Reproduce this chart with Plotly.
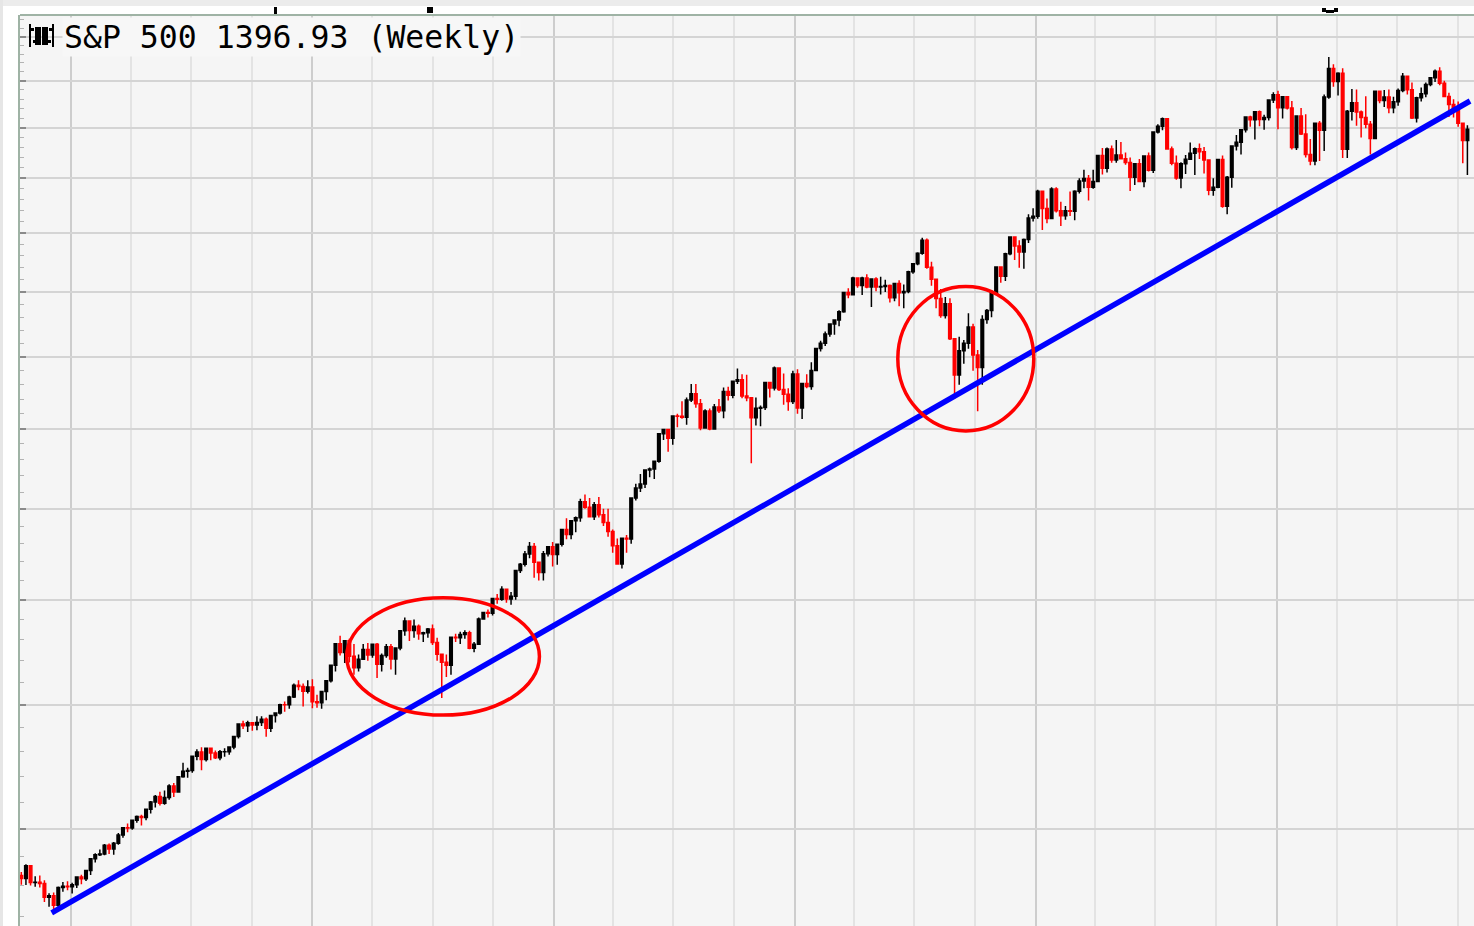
import math
import pandas as pd
import plotly.graph_objects as go

# ---------------- data (weekly S&P 500, weeks starting Monday) ----------------
week_start = "1994-10-17"
first_open = 467.0

close_1994 = [464.89, 473.77, 462.28, 462.35, 461.47, 452.29, 453.30, 446.95, 458.80, 459.61, 459.27]
high_1994 = [469.3, 474.7, 473.8, 466.5, 467.0, 463.8, 455.0, 455.5, 459.5, 462.5, 463.0]
low_1994 = [460.7, 460.5, 460.2, 459.4, 458.8, 449.1, 446.0, 443.7, 445.2, 456.0, 457.0]

close_1995 = [460.68, 465.97, 464.78, 470.39, 478.65, 481.46, 481.97, 488.11, 485.42, 489.57, 495.52, 500.97, 500.71,
              506.42, 509.23, 508.49, 514.71, 520.12, 524.37, 519.19, 523.65, 532.51, 527.94, 539.83, 544.13, 544.75,
              556.37, 559.89, 553.62, 562.93, 558.94, 555.11, 559.97, 560.10, 563.84, 572.68, 583.35, 581.73, 584.41,
              582.49, 584.50, 587.46, 579.70, 590.57, 592.72, 600.07, 599.97, 606.98, 617.48, 616.34, 611.95, 615.93]
high_1995 = [462.0, 466.5, 467.5, 471.0, 479.0, 482.5, 485.2, 489.0, 489.5, 490.5, 497.0, 501.5, 504.0,
             507.0, 510.0, 510.5, 515.0, 521.0, 525.5, 528.0, 529.0, 534.0, 535.0, 540.0, 551.0, 547.0,
             557.0, 562.0, 563.8, 563.5, 563.0, 561.0, 561.5, 563.0, 564.5, 573.0, 583.5, 586.0, 586.0,
             585.0, 590.0, 590.0, 589.0, 591.0, 593.0, 601.0, 603.0, 608.0, 619.0, 622.0, 619.0, 622.0]
low_1995 = [454.8, 458.5, 461.0, 463.2, 467.4, 476.0, 480.5, 481.0, 482.0, 481.5, 488.5, 493.5, 497.5,
            499.5, 504.5, 502.5, 506.5, 511.5, 516.0, 517.5, 518.0, 522.0, 524.0, 527.5, 539.0, 539.0,
            543.0, 553.0, 545.0, 552.0, 553.0, 554.0, 553.0, 556.0, 557.5, 562.0, 571.0, 579.0, 576.5,
            577.5, 578.0, 581.5, 572.5, 576.5, 584.5, 591.5, 594.0, 596.5, 606.0, 613.0, 598.5, 610.0]

close_1996 = [602.69, 601.81, 611.83, 621.62, 635.84, 656.37, 647.98, 659.08, 644.37, 633.50, 641.43, 650.62, 645.50,
              655.86, 636.71, 645.07, 653.46, 641.63, 652.09, 668.91, 678.51, 669.12, 673.31, 665.85, 666.84, 670.63,
              657.44, 646.19, 638.73, 635.90, 662.49, 662.10, 665.21, 667.03, 651.99, 655.68, 680.54, 687.03, 686.19,
              701.46, 700.66, 710.82, 700.92, 703.77, 730.82, 737.62, 748.73, 757.02, 739.60, 728.64, 748.87, 756.79,
              748.03]
high_1996 = [623.0, 609.0, 612.0, 622.0, 636.0, 657.0, 664.0, 659.5, 661.0, 656.0, 646.0, 656.0, 657.0,
             656.5, 657.0, 647.0, 656.0, 656.0, 653.0, 669.5, 682.0, 679.0, 680.0, 675.0, 668.0, 671.5,
             675.0, 662.0, 646.0, 646.0, 663.0, 666.0, 668.0, 669.5, 669.0, 658.0, 682.0, 687.5, 690.0,
             702.0, 706.0, 714.0, 711.0, 708.0, 731.5, 739.0, 752.0, 762.0, 761.0, 740.0, 752.0, 757.5, 762.0]
low_1996 = [597.0, 597.3, 596.5, 604.0, 620.0, 630.0, 645.0, 638.0, 638.5, 627.0, 630.0, 641.0, 640.0,
            643.0, 624.0, 630.0, 643.0, 632.0, 627.0, 650.0, 664.0, 659.0, 662.0, 660.0, 658.0, 662.0,
            655.0, 640.0, 605.9, 625.0, 627.0, 658.0, 656.0, 661.0, 651.0, 648.0, 655.0, 680.0, 682.0,
            684.0, 696.0, 699.0, 697.0, 695.0, 700.0, 728.0, 735.0, 744.0, 723.0, 720.0, 720.0, 746.0, 735.0]

close_1997 = [759.50, 776.17, 770.52, 786.16, 789.56, 808.48, 801.77, 790.82, 804.97, 793.17, 784.10, 773.88, 757.90,
              737.65, 766.34, 765.37, 812.97, 824.78, 829.75, 847.03, 848.28, 858.01, 893.27, 898.70, 887.30, 916.92,
              916.68, 915.30, 938.79, 947.14, 933.54, 900.81, 923.54, 899.47, 929.05, 923.91, 950.51, 945.22, 965.03,
              966.98, 944.16, 941.64, 914.62, 927.51, 928.35, 963.09, 955.40, 983.79, 953.39, 946.78, 936.46, 975.04]
high_1997 = [760.0, 777.0, 789.0, 787.0, 791.0, 812.0, 817.0, 813.0, 808.0, 814.0, 800.0, 800.0, 776.0,
             766.0, 767.0, 770.0, 813.0, 830.0, 842.0, 848.0, 850.0, 859.0, 894.0, 900.0, 900.0, 918.0,
             920.0, 937.0, 942.0, 961.0, 961.0, 940.0, 926.0, 927.0, 933.0, 940.0, 956.0, 957.0, 966.0,
             983.0, 975.0, 974.0, 942.0, 942.0, 931.0, 963.0, 961.0, 986.0, 983.0, 976.0, 955.0, 980.0]
low_1997 = [737.0, 757.0, 765.0, 765.0, 773.0, 785.0, 800.0, 790.0, 787.0, 790.0, 780.0, 768.0, 750.0,
            737.0, 733.0, 750.0, 760.0, 810.0, 820.0, 825.0, 838.0, 836.0, 856.0, 885.0, 870.0, 879.0,
            902.0, 913.0, 905.0, 936.0, 928.0, 898.0, 900.0, 898.0, 902.0, 921.0, 914.0, 938.0, 941.0,
            961.0, 941.0, 937.0, 855.3, 904.0, 903.0, 925.0, 942.0, 952.0, 951.0, 932.0, 924.0, 933.0]

close_1998 = [927.69, 961.51, 957.59, 980.28, 1012.46, 1020.09, 1034.21, 1049.34, 1055.69, 1068.61, 1099.16, 1095.44,
              1122.70, 1110.67, 1122.72, 1107.90, 1121.00, 1108.14, 1108.73, 1110.47, 1090.82, 1113.86, 1098.84,
              1100.65, 1133.20, 1146.42, 1164.33, 1186.75, 1140.80, 1120.67, 1089.45, 1062.75, 1081.24, 1027.14,
              973.89, 1009.06, 1020.09, 1044.75, 1002.60, 984.39, 1056.42, 1070.67, 1098.67, 1141.01, 1125.72,
              1163.55, 1192.33, 1176.74, 1166.46, 1188.03, 1226.27, 1229.23]
high_1998 = [982.0, 962.0, 975.0, 992.0, 1013.0, 1024.0, 1038.0, 1050.0, 1056.0, 1071.0, 1100.0, 1106.0, 1125.0,
             1124.0, 1125.0, 1129.0, 1121.0, 1124.0, 1125.0, 1120.0, 1112.0, 1114.0, 1119.0, 1112.0, 1135.0, 1147.0,
             1166.0, 1191.0, 1190.0, 1150.0, 1122.0, 1105.0, 1092.0, 1090.0, 1027.0, 1030.0, 1025.0, 1066.0, 1050.0,
             1010.0, 1063.0, 1073.0, 1103.0, 1142.0, 1142.0, 1165.0, 1193.0, 1193.0, 1187.0, 1190.0, 1233.0, 1244.0]
low_1998 = [920.0, 912.8, 955.0, 953.0, 984.0, 1008.0, 1016.0, 1030.0, 1033.0, 1046.0, 1067.0, 1090.0, 1097.0,
            1107.0, 1095.0, 1106.0, 1076.0, 1101.0, 1096.0, 1100.0, 1083.0, 1085.0, 1077.0, 1074.0, 1098.0, 1130.0,
            1144.0, 1162.0, 1138.0, 1110.0, 1074.0, 1059.0, 1058.0, 1025.0, 940.0, 960.0, 990.0, 1012.0, 980.0,
            923.3, 960.0, 1050.0, 1060.0, 1098.0, 1115.0, 1118.0, 1161.0, 1153.0, 1140.0, 1138.0, 1182.0, 1220.0]

close_1999 = [1275.09, 1243.26, 1225.19, 1279.64, 1239.40, 1230.13, 1239.22, 1238.33, 1275.47, 1294.59, 1299.29,
              1282.80, 1293.72, 1343.98, 1319.00, 1356.85, 1335.18, 1345.00, 1337.80, 1330.29, 1301.84, 1327.75,
              1293.64, 1342.84, 1315.31, 1391.22, 1403.28, 1418.78, 1356.94, 1328.72, 1300.29, 1327.68, 1336.61,
              1348.27, 1357.24, 1351.66, 1335.42, 1277.36, 1282.81, 1336.02, 1247.41, 1301.65, 1362.93, 1370.23,
              1396.06, 1422.00, 1416.62, 1433.30, 1417.04, 1421.03, 1458.34, 1469.25]
high_1999 = [1278.0, 1276.0, 1262.0, 1283.0, 1283.0, 1256.0, 1248.0, 1275.0, 1277.0, 1300.0, 1316.0, 1306.0, 1316.0,
             1345.0, 1359.0, 1360.0, 1364.0, 1375.0, 1371.0, 1350.0, 1340.0, 1328.0, 1337.0, 1344.0, 1350.0, 1392.0,
             1407.0, 1421.0, 1418.0, 1362.0, 1344.0, 1331.0, 1345.0, 1370.0, 1360.0, 1368.0, 1361.0, 1336.0, 1300.0,
             1337.0, 1344.0, 1304.0, 1362.0, 1385.0, 1397.0, 1424.0, 1425.0, 1434.0, 1436.0, 1427.0, 1459.0, 1475.0]
low_1999 = [1225.0, 1205.0, 1217.0, 1225.0, 1236.0, 1212.0, 1223.0, 1230.0, 1222.0, 1271.0, 1281.0, 1258.0, 1280.0,
            1293.0, 1307.0, 1311.0, 1330.0, 1330.0, 1337.0, 1326.0, 1276.0, 1287.0, 1293.0, 1283.0, 1313.0, 1310.0,
            1388.0, 1395.0, 1356.0, 1325.0, 1297.0, 1281.0, 1308.0, 1339.0, 1306.0, 1337.0, 1309.0, 1268.0, 1267.0,
            1281.0, 1245.0, 1233.0, 1282.0, 1354.0, 1346.0, 1390.0, 1402.0, 1376.0, 1403.0, 1396.0, 1415.0, 1452.0]

close_2000 = [1441.47, 1465.15, 1441.36, 1360.16, 1424.37, 1387.12, 1346.09, 1333.36, 1409.17, 1395.07, 1464.47,
              1527.46, 1498.58, 1516.35, 1356.56, 1434.54, 1452.43, 1432.63, 1420.96, 1406.95, 1378.02, 1477.26,
              1456.95, 1464.46, 1441.48, 1454.60, 1478.90, 1509.98, 1480.19, 1419.89, 1462.93, 1471.84, 1491.72,
              1506.45, 1520.77, 1494.50, 1465.81, 1448.72, 1436.51, 1408.99, 1374.17, 1396.93]
high_2000 = [1478.0, 1466.0, 1465.0, 1456.0, 1425.0, 1441.0, 1428.0, 1377.0, 1410.0, 1414.0, 1470.0, 1553.0, 1537.0,
             1519.0, 1528.0, 1437.0, 1482.0, 1481.0, 1436.0, 1466.0, 1414.0, 1478.0, 1478.0, 1480.0, 1481.0, 1465.0,
             1483.0, 1517.0, 1511.0, 1496.0, 1465.0, 1485.0, 1496.0, 1508.0, 1525.0, 1530.0, 1500.0, 1474.0, 1460.0,
             1455.0, 1409.0, 1405.0]
low_2000 = [1397.0, 1419.0, 1438.0, 1356.0, 1355.0, 1385.0, 1340.0, 1325.0, 1325.0, 1333.0, 1353.0, 1461.0, 1487.0,
            1468.0, 1339.0, 1339.0, 1415.0, 1404.0, 1380.0, 1399.0, 1346.0, 1378.0, 1451.0, 1443.0, 1430.0, 1430.0,
            1446.0, 1475.0, 1470.0, 1418.0, 1411.0, 1455.0, 1464.0, 1488.0, 1497.0, 1490.0, 1465.0, 1422.0, 1421.0,
            1402.0, 1329.0, 1306.0]

# trend line (two touch points)
trend_dates = ["1994-12-02", "2000-10-20"]
trend_values = [442.0, 1456.0]

# highlighted regions (date / price bounds)
circle1 = dict(x0="1996-02-22", x1="1996-12-10", y0=591.0, y1=702.0)
circle2 = dict(x0="1998-06-06", x1="1998-12-29", y0=897.0, y1=1109.0)

title_text = "S&P 500 1396.93 (Weekly)"
grid_prices = [500, 600, 700, 800, 900, 1000, 1100, 1200, 1300, 1400, 1500, 1600]
minor_prices = [p for p in range(440, 1660, 20) if p % 100 != 0]
year_lines = ["1995-01-01", "1996-01-01", "1997-01-01", "1998-01-01", "1999-01-01", "2000-01-01"]

# ---------------- assemble ----------------
close = close_1994 + close_1995 + close_1996 + close_1997 + close_1998 + close_1999 + close_2000
high = high_1994 + high_1995 + high_1996 + high_1997 + high_1998 + high_1999 + high_2000
low = low_1994 + low_1995 + low_1996 + low_1997 + low_1998 + low_1999 + low_2000
opens = [first_open] + close[:-1]
high = [max(h, o, c) for h, o, c in zip(high, opens, close)]
low = [min(l, o, c) for l, o, c in zip(low, opens, close)]
dates = pd.date_range(week_start, periods=len(close), freq="7D")

W, H = 1474, 926
ML, MR, MT, MB = 20, 0, 15, 0
PW, PH = W - ML - MR, H - MT - MB


def px(x):
    return (x - ML) / PW


def py(y):
    return (H - MB - y) / PH


fig = go.Figure()
fig.add_trace(go.Candlestick(
    x=dates, open=opens, high=high, low=low, close=close,
    increasing=dict(line=dict(color="#000000", width=1.5), fillcolor="#000000"),
    decreasing=dict(line=dict(color="#ff0000", width=1.5), fillcolor="#ff0000"),
    whiskerwidth=0, hoverinfo="skip", showlegend=False,
))
fig.add_trace(go.Scatter(
    x=trend_dates, y=trend_values, mode="lines",
    line=dict(color="#0000ff", width=5.5), hoverinfo="skip", showlegend=False,
))

border = "#9fb3a5"
shapes = []
# red highlight ellipses
for c in (circle1, circle2):
    shapes.append(dict(type="circle", xref="x", yref="y", x0=c["x0"], x1=c["x1"], y0=c["y0"], y1=c["y1"],
                       line=dict(color="#ff0000", width=3.5)))
# top border of the plot frame
shapes.append(dict(type="line", xref="paper", yref="paper", x0=0, x1=1, y0=1, y1=1,
                   line=dict(color=border, width=2)))
# light band above the frame and on the far left
shapes.append(dict(type="rect", xref="paper", yref="paper", x0=px(0), x1=px(W), y0=py(0), y1=py(6),
                   fillcolor="#ececec", line=dict(width=0), layer="below"))
shapes.append(dict(type="rect", xref="paper", yref="paper", x0=px(0), x1=px(3), y0=py(0), y1=py(H),
                   fillcolor="#e6e6e6", line=dict(width=0), layer="below"))
# small dark marks above the frame
for (a, b, c_, d) in [(274, 277, 7, 14), (427, 433, 7, 13), (1322, 1326, 8, 12), (1326, 1334, 10, 13), (1334, 1338, 8, 12)]:
    shapes.append(dict(type="rect", xref="paper", yref="paper", x0=px(a), x1=px(b), y0=py(c_), y1=py(d),
                       fillcolor="#000000", line=dict(width=0)))
# little chart icon before the title
for (a, b, c_, d) in [(29, 31, 24, 47), (31, 34, 28, 31), (35, 41, 27, 45), (42, 48, 27, 45), (49, 52, 28, 31),
                      (52, 54, 24, 47), (33, 36, 40, 43), (48, 51, 40, 43)]:
    shapes.append(dict(type="rect", xref="paper", yref="paper", x0=px(a), x1=px(b), y0=py(c_), y1=py(d),
                       fillcolor="#000000", line=dict(width=0), layer="above"))

fig.update_layout(
    width=W, height=H,
    margin=dict(l=ML, r=MR, t=MT, b=MB, pad=0),
    paper_bgcolor="#ffffff", plot_bgcolor="#f5f5f5",
    showlegend=False, hovermode=False,
    boxgap=0.25, boxgroupgap=0.25,
    shapes=shapes,
    annotations=[dict(
        text=title_text, xref="paper", yref="paper", x=px(62), y=py(17),
        xanchor="left", yanchor="top", showarrow=False,
        font=dict(family="DejaVu Sans Mono", size=31.5, color="#000000"),
        bgcolor="#f7f7f7", borderpad=1,
    )],
    xaxis=dict(
        type="date", range=["1994-10-15", "2000-10-26"],
        tickmode="array", tickvals=year_lines, showticklabels=False, ticks="",
        showgrid=True, gridcolor="#cdcdcd", gridwidth=2,
        minor=dict(dtick="M3", tick0="1995-01-01", showgrid=True, gridcolor="#e3e3e3", gridwidth=2, ticks=""),
        zeroline=False, showline=False, rangeslider=dict(visible=False),
    ),
    yaxis=dict(
        type="log", range=[math.log10(433.6), math.log10(1652.0)],
        tickmode="array", tickvals=grid_prices, showticklabels=False,
        ticks="inside", ticklen=6, tickwidth=2, tickcolor="#8a8a8a",
        showgrid=True, gridcolor="#d4d4d4", gridwidth=2,
        minor=dict(tickmode="array", tickvals=minor_prices, ticks="inside", ticklen=4, tickwidth=1,
                   tickcolor="#b3b3b3", showgrid=False),
        showline=True, linecolor=border, linewidth=2, zeroline=False,
    ),
)

fig.write_html(
    "out.html",
    config={"displayModeBar": False, "staticPlot": True},
    post_script="document.body.style.margin='0';document.body.style.overflow='hidden';",
)
